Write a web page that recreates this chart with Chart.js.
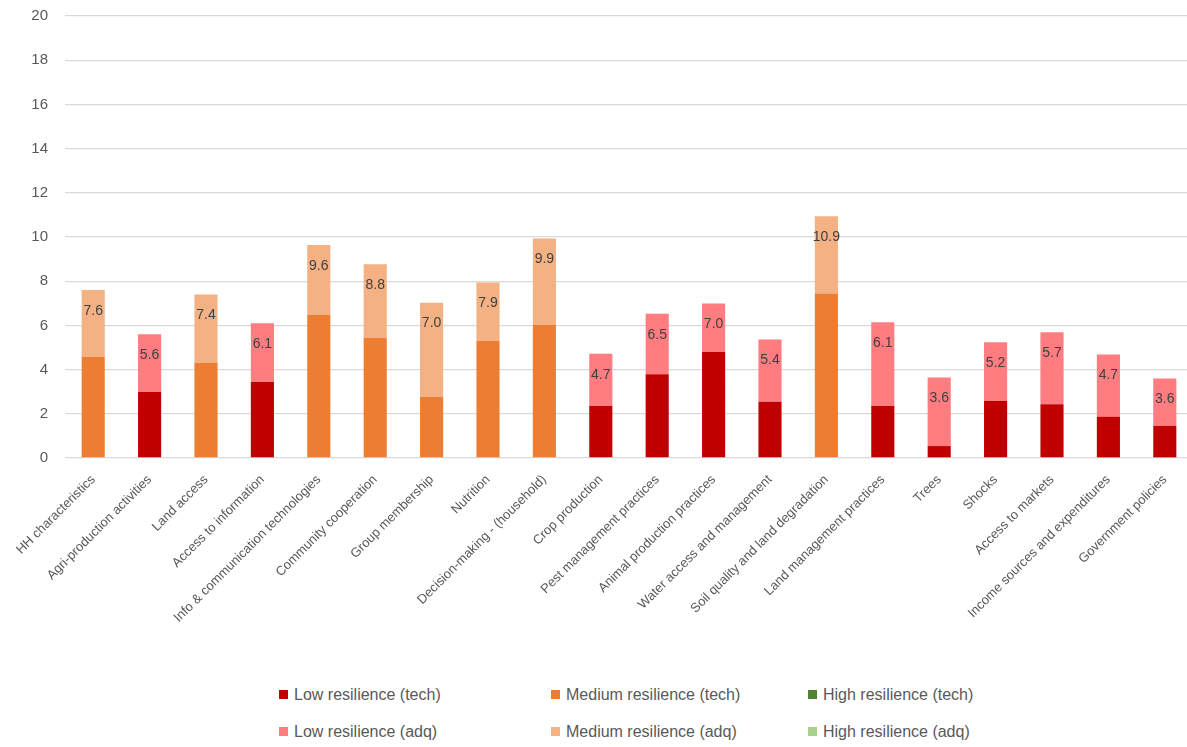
<!DOCTYPE html>
<html>
<head>
<meta charset="utf-8">
<script src="https://cdn.jsdelivr.net/npm/chart.js@4"></script>
<style>
  body { margin: 0; background: #fff; overflow: hidden; font-family: 'Liberation Sans', Arial, sans-serif; }
  #wrap { position: relative; width: 1187px; height: 747px; overflow: hidden; }
  #box { position: absolute; left: 0; top: 0; width: 1193px; height: 670px; }
  .leg { position: absolute; font-size: 16px; color: #595959; line-height: 20px; white-space: nowrap; }
  .leg i { display: inline-block; width: 9px; height: 9px; margin-right: 6px; vertical-align: 1px; }
</style>
</head>
<body>
<div id="wrap">
  <div id="box"><canvas id="resChart"></canvas></div>
  <div id="legend"></div>
</div>
<script>
const categories = [
  'HH characteristics', 'Agri-production activities', 'Land access', 'Access to information',
  'Info & communication technologies', 'Community cooperation', 'Group membership', 'Nutrition',
  'Decision-making - (household)', 'Crop production', 'Pest management practices',
  'Animal production practices', 'Water access and management', 'Soil quality and land degradation',
  'Land management practices', 'Trees', 'Shocks', 'Access to markets',
  'Income sources and expenditures', 'Government policies'
];

const lowTech  = [null, 2.99, null, 3.44, null, null, null, null, null, 2.35, 3.79, 4.80, 2.55, null, 2.35, 0.54, 2.58, 2.43, 1.86, 1.45];
const medTech  = [4.57, null, 4.30, null, 6.47, 5.43, 2.76, 5.29, 6.02, null, null, null, null, 7.44, null, null, null, null, null, null];
const highTech = new Array(20).fill(null);
const lowAdq   = [null, 2.61, null, 2.66, null, null, null, null, null, 2.37, 2.74, 2.19, 2.81, null, 3.79, 3.10, 2.66, 3.26, 2.82, 2.15];
const medAdq   = [3.03, null, 3.10, null, 3.17, 3.34, 4.27, 2.65, 3.91, null, null, null, null, 3.50, null, null, null, null, null, null];
const highAdq  = new Array(20).fill(null);

const yTicks = [0, 2, 4, 6, 8, 10, 12, 14, 16, 18, 20];

const series = [
  { label: 'Low resilience (tech)',    data: lowTech,  color: '#C00000' },
  { label: 'Medium resilience (tech)', data: medTech,  color: '#ED7D31' },
  { label: 'High resilience (tech)',   data: highTech, color: '#548235' },
  { label: 'Low resilience (adq)',     data: lowAdq,   color: '#FF7C80' },
  { label: 'Medium resilience (adq)',  data: medAdq,   color: '#F4B183' },
  { label: 'High resilience (adq)',    data: highAdq,  color: '#A9D18E' },
];

const FONT = "'Liberation Sans', Arial, sans-serif";

// total label written inside the top of the adq segment
const totalLabels = {
  id: 'totalLabels',
  afterDatasetsDraw(chart) {
    const { ctx } = chart;
    ctx.save();
    ctx.font = '14px ' + FONT;
    ctx.fillStyle = '#404040';
    ctx.textAlign = 'center';
    ctx.textBaseline = 'middle';
    categories.forEach((c, i) => {
      const total = chart.data.datasets.reduce((s, ds) => s + (ds.data[i] || 0), 0);
      [3, 4, 5].forEach(di => {
        if (chart.data.datasets[di].data[i] == null) return;
        const bar = chart.getDatasetMeta(di).data[i];
        ctx.fillText(total.toFixed(1), bar.x, bar.y + 21);
      });
    });
    ctx.restore();
  }
};

const ctx = document.getElementById('resChart').getContext('2d');
new Chart(ctx, {
  type: 'bar',
  data: {
    labels: categories,
    datasets: series.map(s => ({
      label: s.label,
      data: s.data,
      backgroundColor: s.color,
      borderWidth: 0,
      categoryPercentage: 1,
      barPercentage: 0.41,
    })),
  },
  options: {
    responsive: true,
    maintainAspectRatio: false,
    animation: false,
    layout: { padding: { top: 16, left: 0, right: 0, bottom: 0 } },
    plugins: {
      legend: { display: false },
      tooltip: { enabled: false },
    },
    scales: {
      x: {
        stacked: true,
        grid: { display: false },
        border: { display: false },
        ticks: {
          autoSkip: false,
          minRotation: 45,
          maxRotation: 45,
          padding: 6,
          color: '#595959',
          font: { size: 13, family: FONT },
        },
        afterFit: scale => { scale.height = 212; },
      },
      y: {
        stacked: true,
        min: 0,
        max: 20,
        afterBuildTicks: scale => { scale.ticks = yTicks.map(v => ({ value: v })); },
        grid: { color: '#d9d9d9', lineWidth: 1.3, drawTicks: false },
        border: { display: false },
        ticks: {
          padding: 17,
          color: '#595959',
          font: { size: 15, family: FONT },
        },
        afterFit: scale => {
          scale.width = 65;
          scale.paddingTop = 0;
          scale.paddingBottom = 0;
        },
      },
    },
  },
  plugins: [totalLabels],
});

// legend: 3 columns, 2 rows like the original
const legendCols = [279, 551, 808];
const legendRows = [685, 722];
const legendEl = document.getElementById('legend');
series.forEach((s, i) => {
  const d = document.createElement('div');
  d.className = 'leg';
  d.style.left = legendCols[i % 3] + 'px';
  d.style.top = legendRows[Math.floor(i / 3)] + 'px';
  d.innerHTML = '<i style="background:' + s.color + '"></i>';
  d.appendChild(document.createTextNode(s.label));
  legendEl.appendChild(d);
});
</script>
</body>
</html>
